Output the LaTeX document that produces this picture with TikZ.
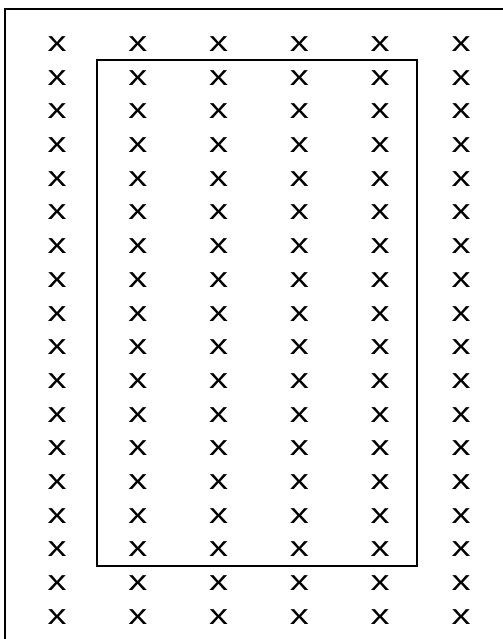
\documentclass[tikz,border=0pt]{standalone}
\usepackage{fontspec}
\setmainfont{Liberation Sans}
\begin{document}
\begin{tikzpicture}[x=0.025cm, y=-0.025cm]
\pgfmathsetmacro\colstep{80.8};
\pgfmathsetmacro\rowstep{33.7};
\useasboundingbox (0,0) rectangle (503,639);
\draw [draw = black, line width = 1.4pt] (5,639) -- (5,9) -- (503,9);
\draw [draw = black, line width = 1.3pt] (97,60) rectangle (417,566);
\foreach \c in {0,...,5} \foreach \r in {0,...,17} \node [inner sep = 0, font = \fontsize{20}{21}\selectfont] (x-\c-\r) at (57+\colstep*\c,44+\rowstep*\r) {\scalebox{1.35}[1]{x}};
\end{tikzpicture}
\end{document}
